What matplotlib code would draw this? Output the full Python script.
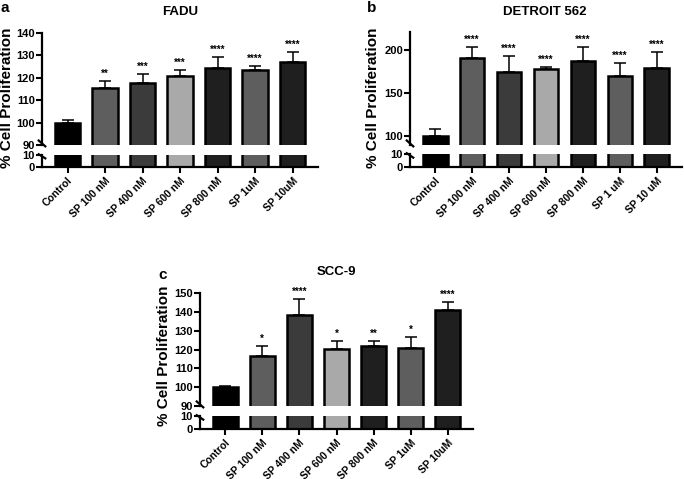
import numpy as np
import matplotlib
matplotlib.use('Agg')
import matplotlib.pyplot as plt

plt.rcParams['font.family'] = ['Liberation Sans', 'DejaVu Sans']
plt.rcParams['font.weight'] = 'bold'

# data
labels_a = ['Control', 'SP 100 nM', 'SP 400 nM', 'SP 600 nM', 'SP 800 nM', 'SP 1uM', 'SP 10uM']
labels_b = ['Control', 'SP 100 nM', 'SP 400 nM', 'SP 600 nM', 'SP 800 nM', 'SP 1 uM', 'SP 10 uM']
labels_c = ['Control', 'SP 100 nM', 'SP 400 nM', 'SP 600 nM', 'SP 800 nM', 'SP 1uM', 'SP 10uM']

fadu_mean = [100.0, 115.4, 117.9, 120.9, 124.2, 123.6, 127.0]
fadu_err = [1.3, 3.2, 3.8, 2.7, 5.0, 1.7, 4.5]
fadu_stars = ['', '**', '***', '***', '****', '****', '****']

detroit_mean = [100.0, 191.0, 174.8, 177.5, 186.8, 170.2, 178.7]
detroit_err = [8.5, 12.9, 18.6, 3.1, 17.1, 14.7, 19.3]
detroit_stars = ['', '****', '****', '****', '****', '****', '****']

scc9_mean = [100.0, 116.7, 138.3, 120.4, 122.0, 121.0, 140.8]
scc9_err = [0.6, 5.3, 8.7, 4.3, 2.5, 5.8, 4.6]
scc9_stars = ['', '*', '****', '*', '**', '*', '****']

bar_colors = ['#000000', '#5e5e5e', '#3b3b3b', '#a9a9a9', '#1f1f1f', '#5e5e5e', '#1f1f1f']

W, H = 684, 479


def px_axes(fig, left, right, top, bottom):
    return fig.add_axes([left / W, 1 - bottom / H, (right - left) / W, (bottom - top) / H])


def panel(fig, left, right, top_up, bot_up, top_lo, bot_lo, ylim, ticks, labels, mean, err, stars):
    x = np.arange(len(mean))
    up = px_axes(fig, left, right, top_up, bot_up)
    lo = px_axes(fig, left, right, top_lo, bot_lo)
    for ax in (up, lo):
        ax.bar(x, mean, width=0.67, color=bar_colors, edgecolor='black', linewidth=1.8, zorder=2)
        ax.set_xlim(-0.68, 6.68)
        for s in ('top', 'right'):
            ax.spines[s].set_visible(False)
        ax.spines['left'].set_linewidth(1.6)
        ax.tick_params(axis='y', direction='out', length=4, width=1.5, labelsize=8, pad=1)
    up.errorbar(x, mean, yerr=[np.zeros(len(err)), err], fmt='none', ecolor='black',
                elinewidth=1.1, capsize=4.5, capthick=1.1, zorder=1)
    for xi, m, e, s in zip(x, mean, err, stars):
        if s:
            up.text(xi, m + e + (ylim[1] - ylim[0]) * 0.02, s, ha='center', va='bottom', fontsize=7)
    up.set_ylim(*ylim)
    up.set_yticks(ticks)
    up.spines['bottom'].set_visible(False)
    up.set_xticks([])
    lo.set_ylim(0, 10)
    lo.set_yticks([0, 10])
    lo.spines['bottom'].set_linewidth(1.6)
    lo.set_xticks(x)
    lo.set_xticklabels(labels, rotation=45, ha='right', rotation_mode='anchor', fontsize=7.5)
    lo.tick_params(axis='x', direction='out', length=4, width=1.5, pad=2)
    # break marks on the y axis
    d = (ylim[1] - ylim[0]) * 0.04
    up.plot([-0.012, 0.012], [ylim[0] + d, ylim[0] - d * 0.3], transform=up.get_yaxis_transform(),
            color='black', lw=1.6, clip_on=False)
    lo.plot([-0.012, 0.012], [10.6, 7.2], transform=lo.get_yaxis_transform(),
            color='black', lw=1.6, clip_on=False)
    return up, lo


fig = plt.figure(figsize=(W / 100, H / 100), dpi=100)

panel(fig, 42, 318, 33, 145, 155, 167, (90, 140), [90, 100, 110, 120, 130, 140],
      labels_a, fadu_mean, fadu_err, fadu_stars)
panel(fig, 410, 682, 32, 145, 154, 167, (89.5, 221), [100, 150, 200],
      labels_b, detroit_mean, detroit_err, detroit_stars)
panel(fig, 200, 473, 293, 406, 416, 429, (90, 150), [90, 100, 110, 120, 130, 140, 150],
      labels_c, scc9_mean, scc9_err, scc9_stars)

fig.text(180 / W, 1 - 12 / H, 'FADU', ha='center', va='center', fontsize=9.5)
fig.text(545 / W, 1 - 12 / H, 'DETROIT 562', ha='center', va='center', fontsize=9.5)
fig.text(336 / W, 1 - 272 / H, 'SCC-9', ha='center', va='center', fontsize=9.5)

fig.text(5 / W, 1 - 8 / H, 'a', ha='center', va='center', fontsize=11)
fig.text(372 / W, 1 - 8 / H, 'b', ha='center', va='center', fontsize=11)
fig.text(163 / W, 1 - 275 / H, 'c', ha='center', va='center', fontsize=11)

for xp, yp in ((7, 98), (373, 98), (164, 356)):
    fig.text(xp / W, 1 - yp / H, '% Cell Proliferation', rotation=90, ha='center', va='center',
             fontsize=11)

fig.savefig('out.png', dpi=100)
